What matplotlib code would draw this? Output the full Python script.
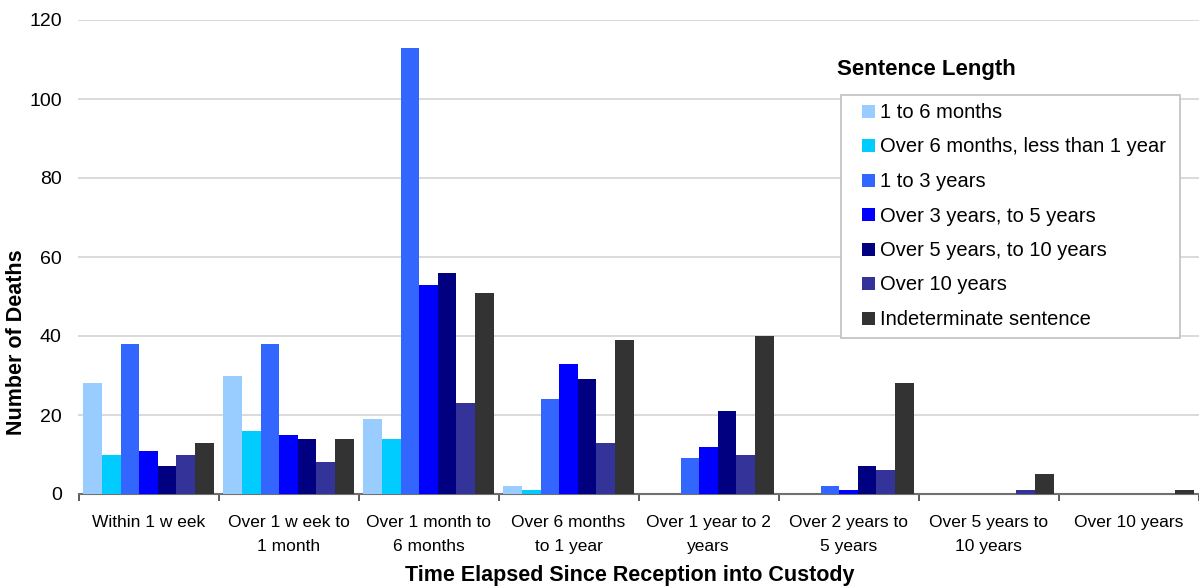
import matplotlib
matplotlib.use("Agg")
import matplotlib.pyplot as plt
from matplotlib.patches import Rectangle
import numpy as np

plt.rcParams['font.family'] = ['Liberation Sans', 'DejaVu Sans']

categories = ["Within 1 w eek", "Over 1 w eek to\n1 month", "Over 1 month to\n6 months",
              "Over 6 months\nto 1 year", "Over 1 year to 2\nyears", "Over 2 years to\n5 years",
              "Over 5 years to\n10 years", "Over 10 years"]
series_names = ["1 to 6 months", "Over 6 months, less than 1 year", "1 to 3 years",
                "Over 3 years, to 5 years", "Over 5 years, to 10 years", "Over 10 years",
                "Indeterminate sentence"]
s_1to6m = [28, 30, 19, 2, 0, 0, 0, 0]
s_6mto1y = [10, 16, 14, 1, 0, 0, 0, 0]
s_1to3y = [38, 38, 113, 24, 9, 2, 0, 0]
s_3to5y = [11, 15, 53, 33, 12, 1, 0, 0]
s_5to10y = [7, 14, 56, 29, 21, 7, 0, 0]
s_over10y = [10, 8, 23, 13, 10, 6, 1, 0]
s_indet = [13, 14, 51, 39, 40, 28, 5, 1]
series = [s_1to6m, s_6mto1y, s_1to3y, s_3to5y, s_5to10y, s_over10y, s_indet]
colors = ["#99CCFF", "#00CCFF", "#3366FF", "#0000FF", "#000080", "#333399", "#333333"]
yticks = [0, 20, 40, 60, 80, 100, 120]

W, H = 1199, 588
fig = plt.figure(figsize=(W / 100, H / 100), dpi=100)
ax = fig.add_axes([78.5 / W, 94 / H, 1120 / W, 474 / H])


def fx(px):
    return px / W


def fy(py):
    return 1 - py / H


x = np.arange(len(categories))
n = len(series)
bw = 0.93 / n
for i, (vals, col, name) in enumerate(zip(series, colors, series_names)):
    ax.bar(x - 0.465 + bw * (i + 0.5), vals, width=bw, color=col, label=name,
           zorder=3, linewidth=0)

ax.set_xlim(-0.5, len(categories) - 0.5)
ax.set_ylim(0, 120)
ax.set_yticks(yticks)
ax.set_yticklabels([str(t) for t in yticks], fontsize=14)
ax.yaxis.grid(True, color="#d4d4d4", linewidth=1.2, zorder=0)
ax.set_axisbelow(True)
ax.tick_params(axis='y', length=0, pad=12)

ax.set_xticks(x)
ax.set_xticklabels(categories, fontsize=12.5, linespacing=1.75)
ax.set_xticks(np.arange(len(categories) + 1) - 0.5, minor=True)
ax.tick_params(axis='x', which='major', length=0, pad=15)
ax.tick_params(axis='x', which='minor', length=5, width=1.2, color="#404040")

for s in ['left', 'right', 'top']:
    ax.spines[s].set_visible(False)
ax.spines['bottom'].set_color("#707070")
ax.spines['bottom'].set_linewidth(1.5)

fig.text(fx(17), fy(342), "Number of Deaths", fontsize=15.5, fontweight='bold',
         rotation=90, ha='center', va='center')
fig.text(fx(630), fy(575), "Time Elapsed Since Reception into Custody", fontsize=15.5,
         fontweight='bold', ha='center', va='center')

# legend (drawn manually to match layout)
fig.text(fx(926), fy(69), "Sentence Length", fontsize=16, fontweight='bold',
         ha='center', va='center')
fig.add_artist(Rectangle((fx(841), fy(338)), fx(1180) - fx(841), fy(95) - fy(338),
                         transform=fig.transFigure, facecolor='white',
                         edgecolor='#c0c0c0', linewidth=1.2, zorder=5))
for i, (col, name) in enumerate(zip(colors, series_names)):
    cy = 111 + 34.5 * i
    fig.add_artist(Rectangle((fx(862), fy(cy + 6.5)), 13 / W, 13 / H,
                             transform=fig.transFigure, facecolor=col,
                             edgecolor='none', zorder=6))
    fig.text(fx(880), fy(cy + 1.5), name, fontsize=14.5, ha='left', va='center', zorder=7)

fig.savefig("out.png", dpi=100)
